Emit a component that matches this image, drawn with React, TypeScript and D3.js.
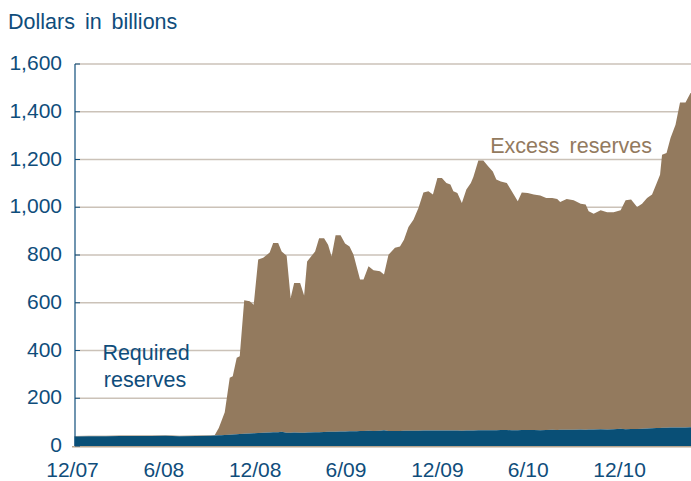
import React from "react";
import * as d3 from "d3";

const dates: string[] = [
  "2007-12-05","2008-01-02","2008-02-06","2008-03-05","2008-04-02","2008-05-07","2008-06-04","2008-07-02","2008-08-06","2008-09-03",
  "2008-09-11","2008-09-19","2008-09-24","2008-10-01","2008-10-11","2008-10-17","2008-10-25","2008-10-31","2008-11-09","2008-11-20",
  "2008-11-28","2008-12-07","2008-12-17","2008-12-30","2009-01-06","2009-01-16","2009-01-23","2009-02-02","2009-02-10","2009-02-17",
  "2009-03-01","2009-03-09","2009-03-15","2009-03-31","2009-04-08","2009-04-18","2009-04-26","2009-05-03","2009-05-11","2009-05-21",
  "2009-05-30","2009-06-08","2009-06-16","2009-06-22","2009-06-29","2009-07-06","2009-07-16","2009-07-26","2009-08-08","2009-08-16",
  "2009-08-25","2009-09-07","2009-09-17","2009-09-25","2009-10-04","2009-10-14","2009-10-24","2009-11-03","2009-11-13","2009-11-22",
  "2009-12-01","2009-12-10","2009-12-19","2009-12-27","2010-01-02","2010-01-10","2010-01-19","2010-01-28","2010-02-06","2010-02-11",
  "2010-02-21","2010-03-03","2010-03-13","2010-03-22","2010-03-29","2010-04-07","2010-04-19","2010-04-29","2010-05-11","2010-05-19",
  "2010-05-31","2010-06-12","2010-06-25","2010-07-07","2010-07-19","2010-07-29","2010-08-04","2010-08-17","2010-08-31","2010-09-14",
  "2010-09-24","2010-09-30","2010-10-10","2010-10-24","2010-11-06","2010-11-19","2010-12-03","2010-12-13","2010-12-24","2011-01-05",
  "2011-01-15","2011-01-25","2011-02-04","2011-02-13","2011-02-20","2011-02-24","2011-03-05","2011-03-13","2011-03-23","2011-04-01",
  "2011-04-12","2011-04-22","2011-04-23",
];

// Required reserves (billions)
const requiredReserves: number[] = [
  40,41,41,42,42,42,43,41,42,43,
  44,45,45,46,47,48,49,50,51,52,
  53,54,55,57,58,58,60,56,55,57,
  56,55,57,58,58,59,60,60,60,61,
  61,62,62,62,63,63,64,63,64,66,
  63,63,63,64,64,64,64,65,65,65,
  65,65,65,65,65,65,64,65,65,65,
  66,66,66,66,66,67,67,66,66,67,
  67,67,66,67,68,67,68,68,68,69,
  68,69,69,70,69,70,72,70,71,71,
  72,73,74,75,75,76,76,77,77,78,
  78,79,79,
];

// Total reserves = required + excess (billions)
const totalReserves: number[] = [
  42,43,43,44,44,44,45,43,44,45,
  46,75,103,141,286,292,370,376,610,606,
  592,781,788,810,850,850,815,797,620,683,
  683,630,773,815,870,870,843,794,883,883,
  848,836,801,753,697,697,753,736,732,718,
  801,830,836,864,917,948,997,1062,1067,1053,
  1123,1123,1102,1095,1067,1060,1018,1074,1102,1127,
  1196,1196,1171,1150,1116,1108,1102,1067,1025,1062,
  1060,1053,1049,1039,1039,1035,1022,1035,1029,1015,
  1011,983,973,987,979,979,987,1029,1032,1001,
  1015,1039,1053,1099,1136,1220,1227,1290,1346,1439,
  1439,1479,1479,
];

const yTicks: number[] = [0, 200, 400, 600, 800, 1000, 1200, 1400, 1600];
const xTickDates: string[] = ["2007-12-01","2008-06-01","2008-12-01","2009-06-01","2009-12-01","2010-06-01","2010-12-01"];
const xTickLabels: string[] = ["12/07","6/08","12/08","6/09","12/09","6/10","12/10"];

const BLUE_TEXT = "#0f4d7b";
const BLUE_AREA = "#094f76";
const BROWN = "#937a5e";
const GRID = "#cbc2b8";
const FONT = "'Liberation Sans', Arial, sans-serif";

export default function App() {
  const W = 691, H = 481;
  const parse = d3.utcParse("%Y-%m-%d");
  const x = d3.scaleUtc()
    .domain([parse("2007-12-01")!, parse("2011-04-23")!])
    .range([72.5, 691]);
  const y = d3.scaleLinear().domain([0, 1600]).range([446, 64]);

  const rows = dates.map((d, i) => ({
    date: parse(d)!,
    required: requiredReserves[i],
    excess: Math.max(0, totalReserves[i] - requiredReserves[i]),
  }));
  const stack = d3.stack<any>().keys(["required", "excess"])(rows);
  const area = d3.area<any>()
    .x((d) => x(d.data.date))
    .y0((d) => y(d[0]))
    .y1((d) => y(d[1]))
    .curve(d3.curveLinear);

  const axisX = 75;
  return (
    <svg width={W} height={H} style={{ position: "absolute", left: 0, top: 0, background: "#fff" }} fontFamily={FONT}>
      <text x={8} y={28.5} fontSize={21.5} fill={BLUE_TEXT} wordSpacing={4}>Dollars in billions</text>
      {yTicks.filter((t) => t > 0).map((t) => (
        <line key={"g" + t} x1={axisX} x2={W} y1={y(t)} y2={y(t)} stroke={GRID} strokeWidth={1.3} />
      ))}
      <path d={area(stack[1] as any) || ""} fill={BROWN} />
      <path d={area(stack[0] as any) || ""} fill={BLUE_AREA} />
      <line x1={72} x2={W} y1={y(0) + 0.8} y2={y(0) + 0.8} stroke="#b9a68f" strokeWidth={1.5} />
      <line x1={axisX} x2={axisX} y1={y(1600)} y2={y(0)} stroke={BLUE_TEXT} strokeWidth={1.2} />
      {yTicks.map((t) => (
        <g key={"t" + t}>
          <line x1={axisX} x2={axisX + 5} y1={y(t)} y2={y(t)} stroke={BLUE_TEXT} strokeWidth={1} />
          <text x={62} y={y(t) + 6} fontSize={21} fill={BLUE_TEXT} textAnchor="end">
            {d3.format(",")(t)}
          </text>
        </g>
      ))}
      {xTickDates.map((d, i) => (
        <text key={"x" + d} x={x(parse(d)!)} y={476.5} fontSize={21} fill={BLUE_TEXT} textAnchor="middle">
          {xTickLabels[i]}
        </text>
      ))}
      <text x={146} y={360} fontSize={21.5} fill={BLUE_TEXT} textAnchor="middle">Required</text>
      <text x={145} y={386.5} fontSize={21.5} fill={BLUE_TEXT} textAnchor="middle">reserves</text>
      <text x={652} y={152.5} fontSize={21.5} fill={BROWN} textAnchor="end" wordSpacing={4}>Excess reserves</text>
    </svg>
  );
}
